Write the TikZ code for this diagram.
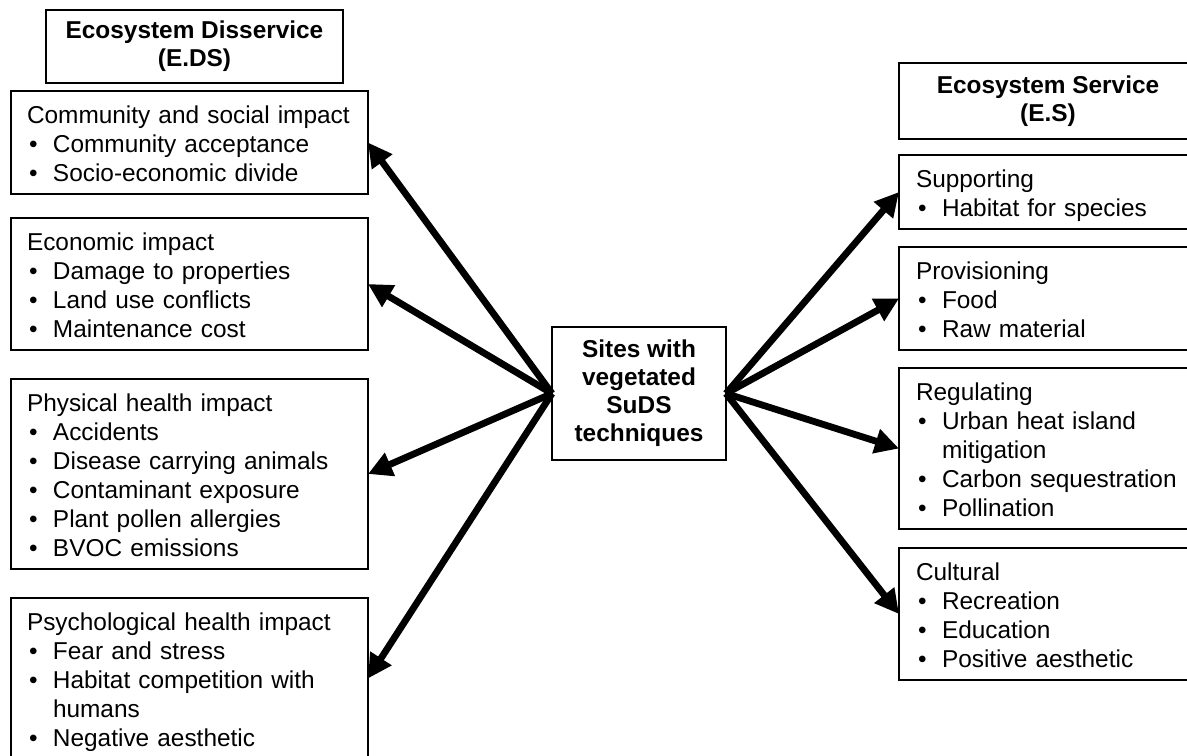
\documentclass[tikz,border=0pt]{standalone}
\usepackage{fontspec}
\setmainfont{Liberation Sans}
\usetikzlibrary{arrows.meta}
\newcommand{\itm}[1]{\par\hangindent=13pt\hangafter=1\makebox[13pt][l]{\hspace{1pt}\textbullet}#1}
\tikzset{
  listbox/.style={draw, line width=0.6pt, outer sep=0pt, anchor=north west,
    inner xsep=8pt, inner ysep=0pt, align=left,
    font=\fontsize{12.2}{14.5}\selectfont,
    execute at begin node={\rule{0pt}{16pt}},
    execute at end node={\rule[-6.5pt]{0pt}{0pt}}},
  disbox/.style={listbox, text width=162.5pt},
  serbox/.style={listbox, text width=132pt, inner xsep=8.5pt},
  headbox/.style={draw, line width=0.6pt, outer sep=0pt, anchor=north west,
    align=center, inner sep=0pt, font=\fontsize{12.2}{14}\selectfont\bfseries},
  arr/.style={-{Triangle[length=12pt,width=12pt]}, line width=3.4pt}
}
\begin{document}
\begin{tikzpicture}[x=0.5pt,y=-0.5pt]
	\useasboundingbox (0,0) rectangle (1187,755);
	\clip (0,0) rectangle (1187,755);
	\node[headbox, minimum width=148.5pt, minimum height=36.5pt] at (46,10) (edshead) {Ecosystem Disservice\\(E.DS)};
	\node[disbox] at (11,91) (community) {Community and social impact\itm{Community acceptance}\itm{Socio-economic divide}};
	\node[disbox] at (11,218) (economic) {Economic impact\itm{Damage to properties}\itm{Land use conflicts}\itm{Maintenance cost}};
	\node[disbox] at (11,379) (physical) {Physical health impact\itm{Accidents}\itm{Disease carrying animals}\itm{Contaminant exposure}\itm{Plant pollen allergies}\itm{BVOC emissions}};
	\node[disbox] at (11,598) (psycho) {Psychological health impact\itm{Fear and stress}\itm{Habitat competition with humans}\itm{Negative aesthetic}};
	\node[headbox, minimum width=87pt, minimum height=66.5pt] at (552,327) (sites) {Sites with\\vegetated\\SuDS\\techniques};
	\node[headbox, minimum width=149pt, minimum height=38pt] at (899,63) (eshead) {Ecosystem Service\\(E.S)};
	\node[serbox] at (899,155) (supporting) {Supporting\itm{Habitat for species}};
	\node[serbox] at (899,247) (provisioning) {Provisioning\itm{Food}\itm{Raw material}};
	\node[serbox] at (899,368) (regulating) {Regulating\itm{Urban heat island mitigation}\itm{Carbon sequestration}\itm{Pollination}};
	\node[serbox] at (899,548) (cultural) {Cultural\itm{Recreation}\itm{Education}\itm{Positive aesthetic}};
	\foreach \t in {community,economic,physical,psycho}
		\draw[arr] (sites.west) -- (\t.east);
	\foreach \t in {supporting,provisioning,regulating,cultural}
		\draw[arr] (sites.east) -- (\t.west);
\end{tikzpicture}
\end{document}
